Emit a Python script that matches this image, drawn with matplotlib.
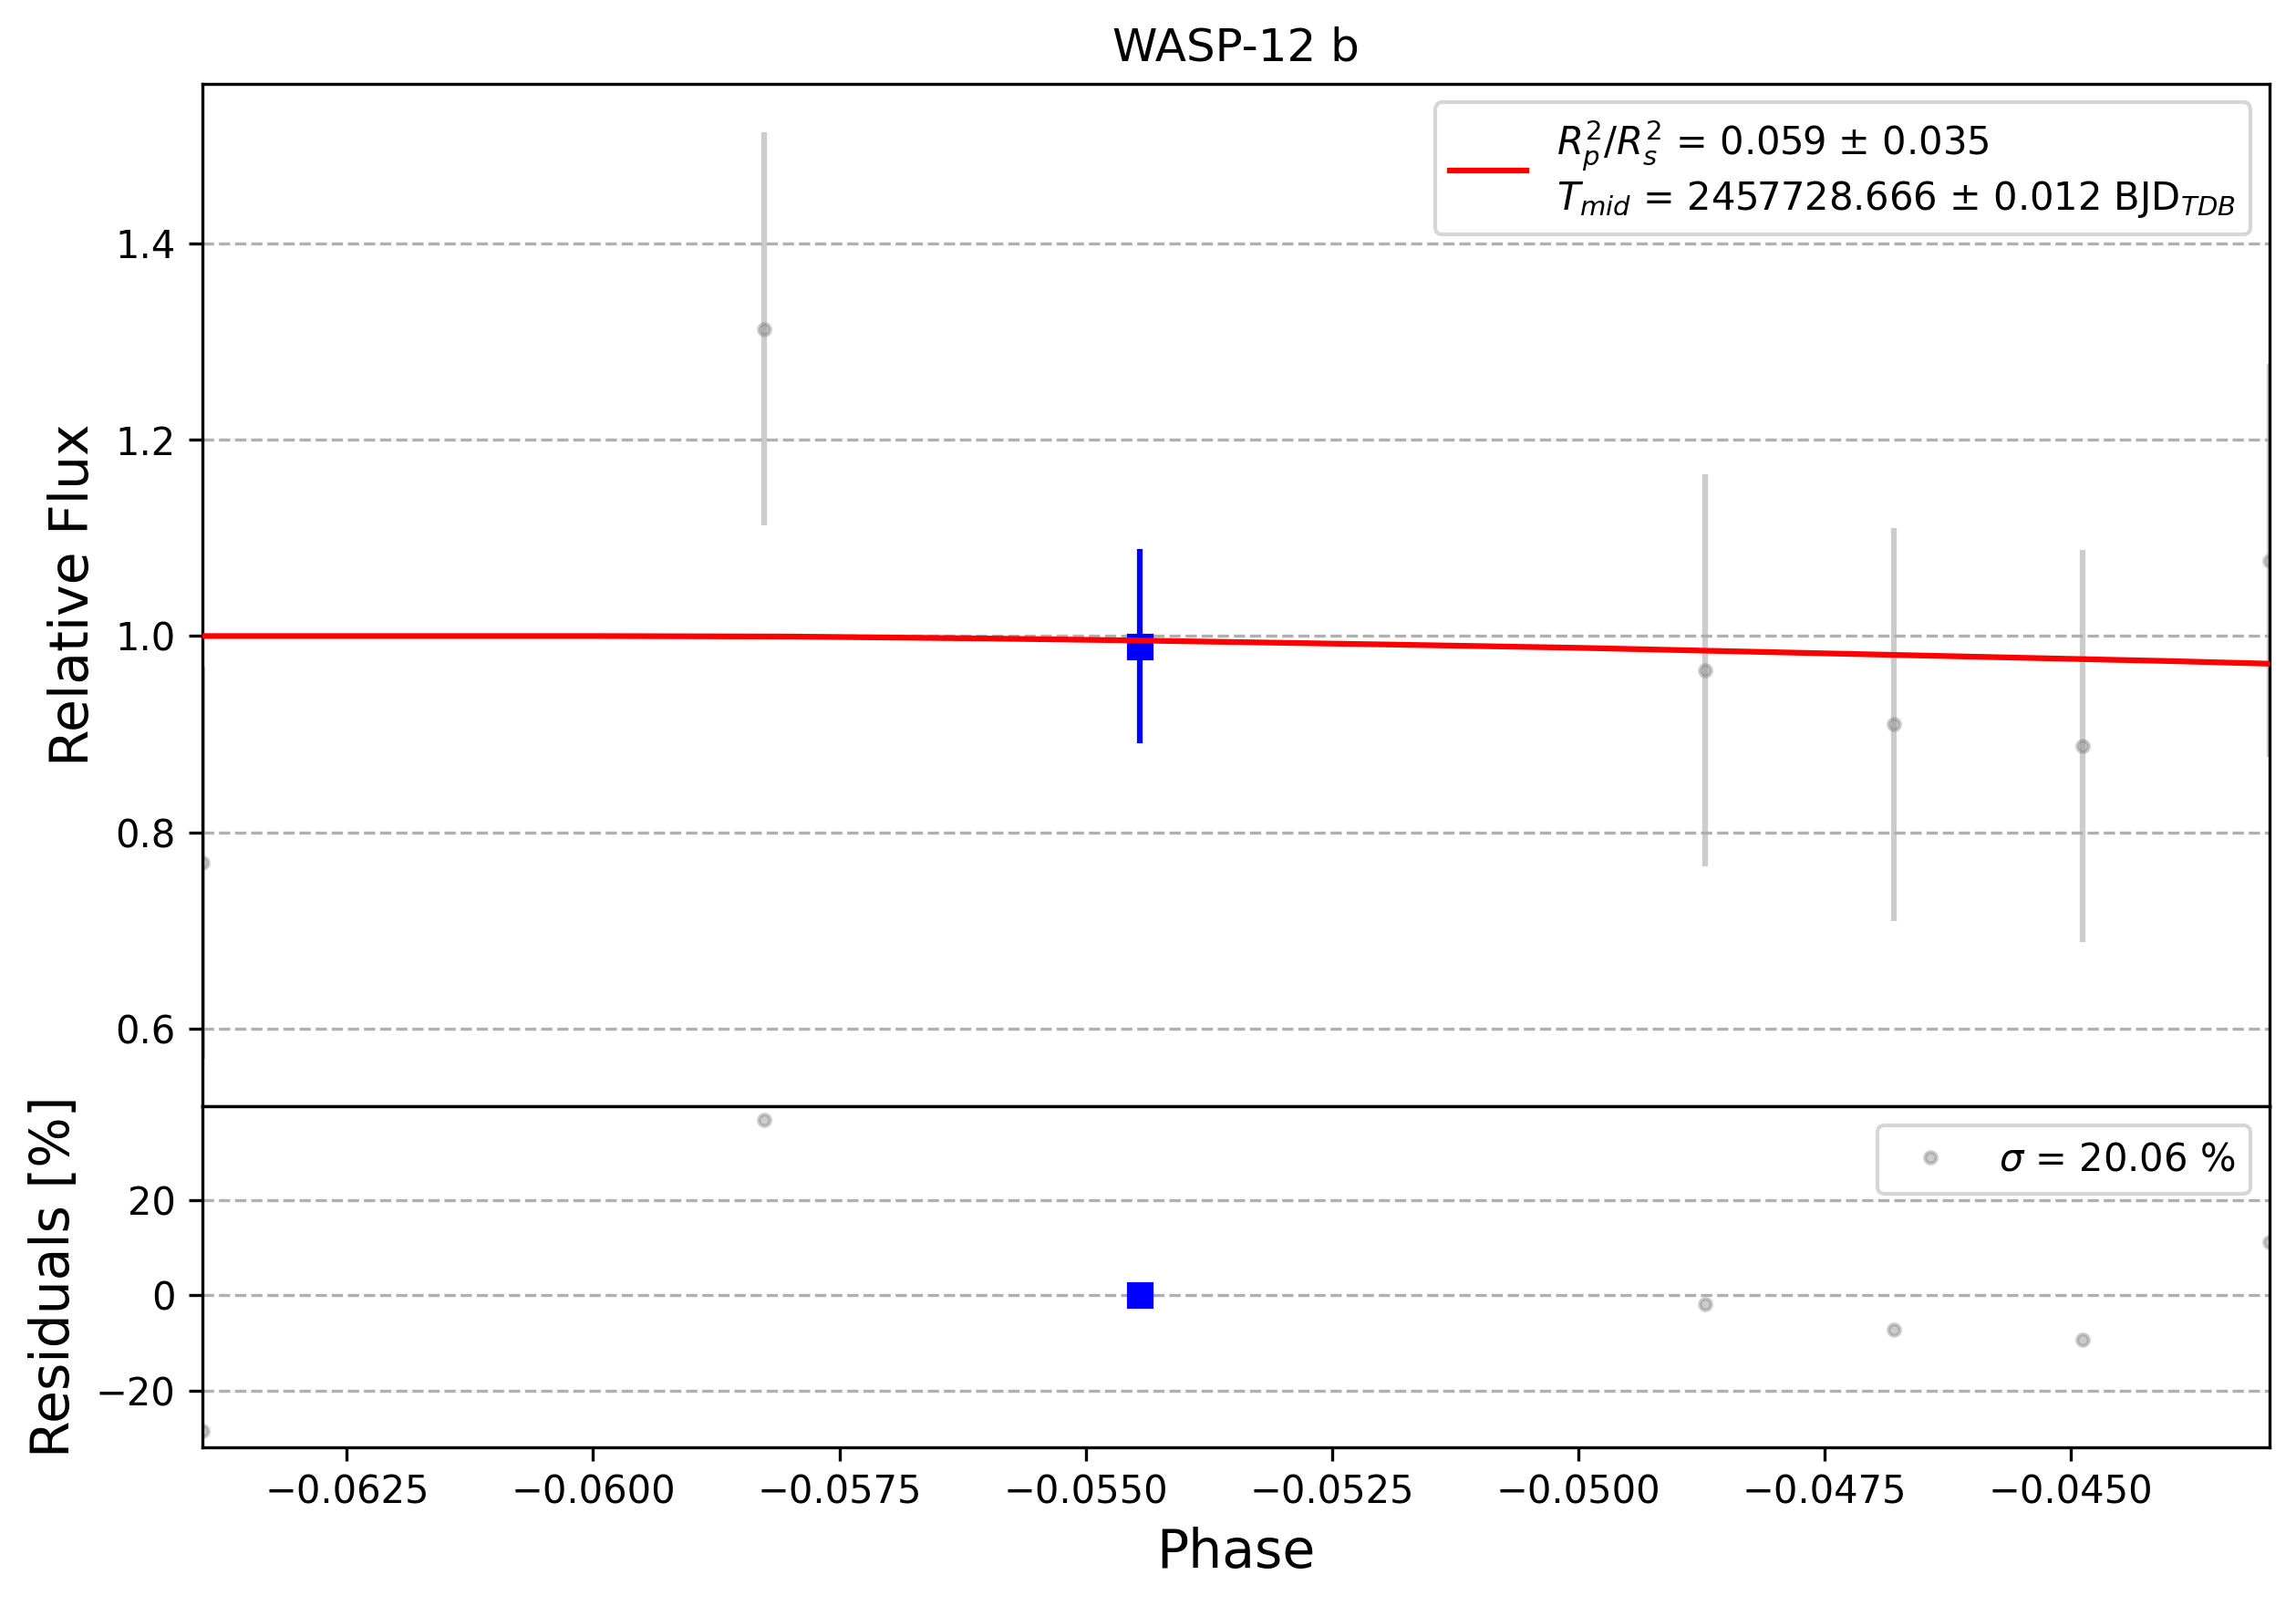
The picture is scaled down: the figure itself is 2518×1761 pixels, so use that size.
import matplotlib
matplotlib.use("Agg")
import matplotlib.pyplot as plt

# --- data ---
# unbinned points (phase, relative flux, flux error, residual in %)
phase = [-0.06397, -0.05826, -0.04871, -0.04679, -0.04488, -0.04298]
flux = [0.769, 1.313, 0.965, 0.910, 0.888, 1.077]
flux_err = [0.20, 0.20, 0.20, 0.20, 0.20, 0.20]
resid = [-28.3, 36.8, -1.8, -7.1, -9.2, 11.1]

# binned point
bin_phase = [-0.05445]
bin_flux = [0.9896]
bin_err = [0.099]
bin_resid = [0.0]

# transit model (sampled)
model_phase = [-0.06397, -0.0620, -0.0600, -0.0580, -0.0560, -0.0545,
               -0.0520, -0.0500, -0.0480, -0.0460, -0.0440, -0.04298]
model_flux = [1.0000, 1.0000, 1.0000, 0.9995, 0.9975, 0.9955,
              0.9915, 0.9880, 0.9835, 0.9790, 0.9745, 0.9718]

lc_label = ("$R^{2}_{p}/R^{2}_{s}$ = 0.059 \u00b1 0.035\n"
            "$T_{mid}$ = 2457728.666 \u00b1 0.012 BJD$_{TDB}$")
res_label = r"$\sigma$ = 20.06 %"

# --- plot ---
fig, (ax_lc, ax_res) = plt.subplots(
    2, 1, sharex=True, figsize=(2518 / 300, 1761 / 300), dpi=300,
    gridspec_kw={"height_ratios": [3, 1], "hspace": 0})
fig.subplots_adjust(left=0.088, right=0.9885, top=0.948, bottom=0.099)

ax_lc.errorbar(phase, flux, yerr=flux_err, ls="none", marker=".",
               color="gray", alpha=0.4, zorder=1)
ax_lc.plot(model_phase, model_flux, "r", zorder=1000, label=lc_label)
ax_lc.errorbar(bin_phase, bin_flux, yerr=bin_err, fmt="s", color="blue",
               zorder=10)

ax_res.plot(phase, resid, marker=".", ls="none", color="gray", alpha=0.4,
            zorder=1, label=res_label)
ax_res.plot(bin_phase, bin_resid, "s", color="blue", zorder=10)

ax_lc.set_title("WASP-12 b", fontsize=12)
ax_lc.set_ylabel("Relative Flux", fontsize=14)
ax_res.set_ylabel("Residuals [%]", fontsize=14)
ax_res.set_xlabel("Phase", fontsize=14)

ax_lc.grid(True, ls="--", axis="y")
ax_res.grid(True, ls="--", axis="y")

ax_lc.set_ylim(0.521, 1.563)
ax_res.set_ylim(-31.7, 39.6)
ax_res.set_xlim(min(phase), max(phase))

ax_lc.legend(loc="upper right")
ax_res.legend(loc="upper right")

fig.savefig("out.png", dpi=300)
